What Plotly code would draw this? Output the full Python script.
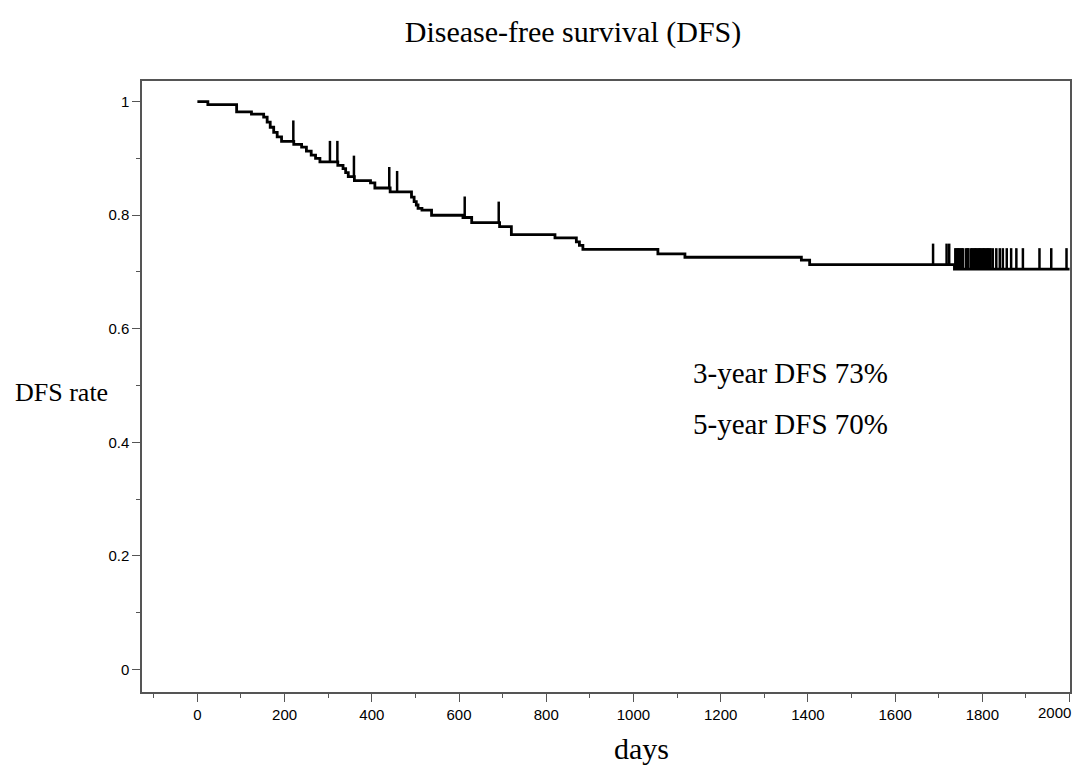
import plotly.graph_objects as go

# Kaplan-Meier step data (day of step, survival after step)
step_days = [0, 24, 90, 124, 152, 160, 167, 175, 183, 193, 221, 239, 250, 261, 271, 281,
             322, 334, 340, 346, 360, 397, 407, 442, 491, 497, 502, 506, 515, 537, 609,
             629, 693, 720, 820, 869, 876, 884, 1056, 1118, 1385, 1404, 1736, 2000]
step_surv = [1.0, 0.995, 0.982, 0.978, 0.973, 0.964, 0.955, 0.946, 0.938, 0.930, 0.925,
             0.920, 0.913, 0.906, 0.900, 0.894, 0.888, 0.882, 0.875, 0.868, 0.861, 0.857,
             0.848, 0.841, 0.832, 0.824, 0.818, 0.812, 0.809, 0.800, 0.796, 0.787, 0.780,
             0.766, 0.760, 0.753, 0.747, 0.740, 0.732, 0.726, 0.721, 0.713, 0.705, 0.705]

# censored observations (days)
censor_days = [220, 304, 321, 359, 440, 458, 613, 691, 1687, 1718, 1724,
               1738, 1741, 1744, 1747, 1750, 1753, 1756, 1763, 1766, 1768, 1774, 1777,
               1780, 1783, 1786, 1789, 1792, 1795, 1798, 1801, 1804, 1807, 1810, 1813,
               1816, 1819, 1824, 1832, 1840, 1847, 1856, 1866, 1878, 1893, 1931, 1958, 1993]

x_ticks = [0, 200, 400, 600, 800, 1000, 1200, 1400, 1600, 1800, 2000]
x_tick_labels = ["0", "200", "400", "600", "800", "1000", "1200", "1400", "1600", "1800", "2000"]
y_ticks = [0, 0.2, 0.4, 0.6, 0.8, 1]
y_tick_labels = ["0", "0.2", "0.4", "0.6", "0.8", "1"]

title_text = "Disease-free survival (DFS)"
x_title = "days"
y_title = "DFS rate"
notes = ["3-year DFS 73%", "5-year DFS 70%"]
note_days = 1132
note_vals = [0.522, 0.433]

CENSOR_LEN = 0.037
AXIS_COLOR = "#555555"


def surv_at(day):
    s = step_surv[0]
    for d, v in zip(step_days, step_surv):
        if d <= day:
            s = v
        else:
            break
    return s


cx, cy = [], []
for d in censor_days:
    s = surv_at(d)
    cx += [d, d, None]
    cy += [s, s + CENSOR_LEN, None]

fig = go.Figure()
fig.add_trace(go.Scatter(x=step_days, y=step_surv, mode="lines", line_shape="hv",
                         line=dict(color="black", width=2.8), showlegend=False,
                         hoverinfo="skip"))
fig.add_trace(go.Scatter(x=cx, y=cy, mode="lines",
                         line=dict(color="black", width=2.5), showlegend=False,
                         hoverinfo="skip"))

serif = "Liberation Serif, Times New Roman, serif"
sans = "Liberation Sans, Arial, sans-serif"

# the last x tick label is drawn right-aligned to the axis end (as in the original)
shown_x_labels = x_tick_labels[:-1] + [""]

fig.update_layout(
    width=1086, height=767,
    margin=dict(l=142, r=16, t=81, b=75),
    plot_bgcolor="white", paper_bgcolor="white",
    title=dict(text=title_text, x=573 / 1086, xanchor="center", xref="container",
               y=1 - 31 / 767, yanchor="middle", yref="container",
               font=dict(family=serif, size=30, color="black")),
    xaxis=dict(range=[-127, 2001], tickvals=x_ticks, ticktext=shown_x_labels,
               ticks="outside", ticklen=8, ticklabeloverflow="allow",
               tickwidth=1.3, tickcolor=AXIS_COLOR, showline=True, linecolor=AXIS_COLOR,
               linewidth=1.5, mirror=True, showgrid=False, zeroline=False,
               tickfont=dict(family=sans, size=15, color="#000"),
               minor=dict(dtick=100, tick0=0, ticks="outside", ticklen=4,
                          tickwidth=1.3, tickcolor=AXIS_COLOR, showgrid=False)),
    yaxis=dict(range=[-0.04, 1.0365], tickvals=y_ticks, ticktext=y_tick_labels,
               ticks="outside", ticklen=8, tickwidth=1.3, tickcolor=AXIS_COLOR,
               showline=True, linecolor=AXIS_COLOR, linewidth=1.5, mirror=True,
               showgrid=False, zeroline=False,
               tickfont=dict(family=sans, size=15, color="#000"),
               minor=dict(dtick=0.1, tick0=0, ticks="outside", ticklen=4,
                          tickwidth=1.3, tickcolor=AXIS_COLOR, showgrid=False)),
)

fig.add_annotation(text=x_tick_labels[-1], x=x_ticks[-1], xref="x", yref="paper",
                   y=(692 - 713) / 611, xanchor="right", yanchor="middle", xshift=3,
                   showarrow=False, font=dict(family=sans, size=15, color="#000"))
fig.add_annotation(text=x_title, xref="paper", yref="paper", x=(641 - 142) / 928,
                   y=(692 - 748) / 611, xanchor="center", yanchor="middle",
                   showarrow=False, font=dict(family=serif, size=30, color="black"))
fig.add_annotation(text=y_title, xref="paper", yref="paper", x=(61 - 142) / 928,
                   y=(692 - 392) / 611, xanchor="center", yanchor="middle",
                   showarrow=False, font=dict(family=serif, size=26, color="black"))
for t, v in zip(notes, note_vals):
    fig.add_annotation(text=t, x=note_days, y=v, xref="x", yref="y",
                       xanchor="left", yanchor="middle", showarrow=False,
                       font=dict(family=serif, size=29, color="black"))

fig.write_html("out.html", config={"displayModeBar": False},
               post_script="document.body.style.margin='0';document.body.style.overflow='hidden';")
